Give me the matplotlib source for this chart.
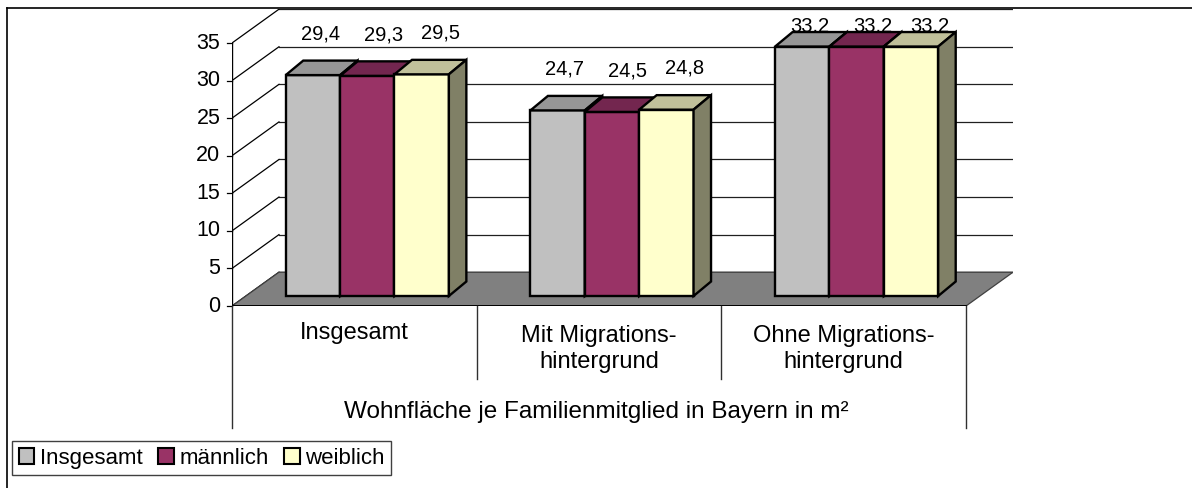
import matplotlib.pyplot as plt
from matplotlib.patches import Polygon, Patch
from matplotlib.lines import Line2D

plt.rcParams["font.family"] = ["Liberation Sans", "DejaVu Sans"]

categories = ["Insgesamt", "Mit Migrations-\nhintergrund", "Ohne Migrations-\nhintergrund"]
series_names = ["Insgesamt", "männlich", "weiblich"]
insgesamt = [29.4, 24.7, 33.2]
maennlich = [29.3, 24.5, 33.2]
weiblich = [29.5, 24.8, 33.2]
y_ticks = [0, 5, 10, 15, 20, 25, 30, 35]
axis_title = "Wohnfläche je Familienmitglied in Bayern in m²"

front_colors = ["#C0C0C0", "#993366", "#FFFFCC"]
top_colors = ["#969696", "#73264F", "#C0C09A"]
side_colors = ["#8C8C8C", "#6E2449", "#808066"]

W, H = 1192, 488
fig = plt.figure(figsize=(W / 100, H / 100), dpi=100)

# plot box: front plane 0..3 x 0..35, plus room for the depth of the floor/back wall
DX, DY = 0.192, 4.5
ax = fig.add_axes([232 / W, (H - 306) / H, (1013 - 232) / W, (35 + DY) * 7.514 / H])
ax.set_xlim(0, 3 + DX)
ax.set_ylim(0, 35 + DY)
ax.axis("off")

# back wall gridlines and left wall diagonals
for v in y_ticks:
    ax.plot([DX, 3 + DX], [v + DY, v + DY], color="#202020", lw=0.9, zorder=1)
    ax.plot([0, DX], [v, v + DY], color="black", lw=0.9, zorder=1)
    ax.plot([-0.02, 0], [v, v], color="black", lw=0.9, clip_on=False)
    ax.text(-0.048, v, str(v), ha="right", va="center", fontsize=15.5)
ax.plot([0, 0], [0, 35], color="black", lw=1.0)

# floor
ax.add_patch(Polygon([(0, 0), (3, 0), (3 + DX, DY), (DX, DY)], closed=True,
                     facecolor="#808080", edgecolor="#404040", lw=0.9, zorder=1.5))
ax.plot([0, 3], [0, 0], color="black", lw=1.4, zorder=1.6)

# category axis dividers and labels
for i in range(4):
    low = -16.2 if i in (0, 3) else -9.7
    ax.plot([i, i], [0, low], color="#303030", lw=1.0, clip_on=False)
for i, cat in enumerate(categories):
    y = -3.6 if "\n" not in cat else -5.7
    ax.text(i + 0.5, y, cat, ha="center", va="center", fontsize=17, linespacing=1.25)
ax.text(1.49, -14.1, axis_title, ha="center", va="center", fontsize=17.5)

# 3D bars
bar_w = 1 / 4.5
fx, fy = 0.053, 1.33       # front face offset into the depth
bx, by = 0.0715, 1.93      # bar depth
label_dx = [0.03, 0.065, 0.075]
for j, vals in enumerate([insgesamt, maennlich, weiblich]):
    for i, v in enumerate(vals):
        x0 = i + 0.75 * bar_w + j * bar_w + fx
        x1 = x0 + bar_w
        y0, y1 = fy, fy + v
        kw = dict(closed=True, edgecolor="black", lw=1.7, joinstyle="miter", zorder=3 + i * 0.1 + j * 0.01)
        ax.add_patch(Polygon([(x0, y0), (x1, y0), (x1, y1), (x0, y1)], facecolor=front_colors[j], **kw))
        ax.add_patch(Polygon([(x0, y1), (x1, y1), (x1 + bx, y1 + by), (x0 + bx, y1 + by)],
                             facecolor=top_colors[j], **kw))
        ax.add_patch(Polygon([(x1, y0), (x1 + bx, y0 + by), (x1 + bx, y1 + by), (x1, y1)],
                             facecolor=side_colors[j], **kw))
        ax.text((x0 + x1) / 2 + label_dx[j], fy + min(v + 5.5, 35.9), f"{v:.1f}".replace(".", ","),
                ha="center", va="center", fontsize=14.5, zorder=2)

# chart area border (top and left edges)
fig.add_artist(Line2D([7 / W, 1], [1 - 7.5 / H, 1 - 7.5 / H], color="black", lw=1.2))
fig.add_artist(Line2D([7.5 / W, 7.5 / W], [0, 1 - 7.5 / H], color="black", lw=1.2))

handles = [Patch(facecolor=c, edgecolor="black", lw=1.5) for c in front_colors]
fig.legend(handles, series_names, loc="upper left", bbox_to_anchor=(12 / W, 1 - 441 / H),
           ncol=3, fontsize=16, frameon=True, fancybox=False, edgecolor="#404040", framealpha=1,
           handlelength=0.7, handleheight=0.7, handletextpad=0.25, columnspacing=0.7,
           borderpad=0.3, borderaxespad=0)

fig.savefig("out.png", dpi=100)
